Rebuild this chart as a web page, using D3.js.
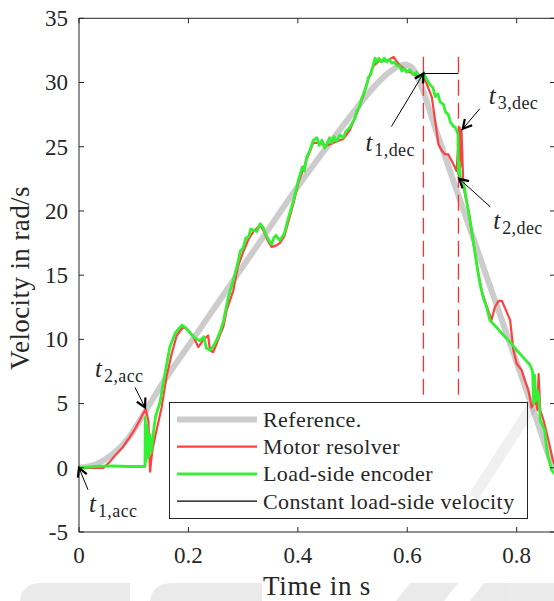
<!DOCTYPE html>
<html>
<head>
<meta charset="utf-8">
<script src="https://cdn.jsdelivr.net/npm/d3@7"></script>
<style>
  body { margin: 0; background: #fff; }
  svg { display: block; }
  text { font-family: "Liberation Serif", "DejaVu Serif", serif; fill: #262626; }
</style>
</head>
<body>
<svg id="chart" width="554" height="601"></svg>
<script>
// values: [time in s, velocity in rad/s]
var referenceData = [
    [0, 0], [0.03, 0.25], [0.06, 1.0], [0.09, 2.3], [0.12, 4.3], [0.15, 6.4],
    [0.2, 9.5], [0.25, 12.6], [0.3, 15.7], [0.35, 18.8], [0.4, 21.9],
    [0.45, 24.8], [0.5, 27.6], [0.54, 29.7], [0.57, 30.9], [0.595, 31.4],
    [0.61, 31.1], [0.626, 29.7], [0.65, 26.6], [0.7, 20.4], [0.75, 14.3],
    [0.8, 8.2], [0.84, 3.3], [0.86, 0.8], [0.87, 0]
];

var resolverData = [
    [0, 0], [0.045, 0], [0.055, 0.4], [0.069, 1.1], [0.08, 1.6], [0.093, 2.4],
    [0.102, 3.0], [0.111, 3.7], [0.117, 4.2], [0.122, 4.55], [0.125, 4.0],
    [0.127, 3.6], [0.128, 1.5], [0.13, -0.3], [0.132, 0.6], [0.135, 1.6],
    [0.139, 2.4], [0.151, 4.7], [0.16, 7.1], [0.1695, 8.9], [0.1786, 10.3],
    [0.191, 11.0], [0.2, 10.7], [0.209, 10.2], [0.218, 9.4], [0.228, 10.0],
    [0.236, 10.3], [0.2395, 9.15], [0.245, 9.0], [0.252, 9.7], [0.258, 10.4],
    [0.264, 11.0], [0.27, 12.3], [0.282, 13.8], [0.29, 15.6], [0.3, 16.8],
    [0.31, 17.8], [0.319, 18.4], [0.331, 18.9], [0.337, 18.5], [0.346, 17.6],
    [0.352, 17.2], [0.36, 17.3], [0.367, 17.5], [0.375, 18.0], [0.383, 19.2],
    [0.392, 20.6], [0.401, 22.2], [0.416, 24.0], [0.428, 25.3], [0.44, 25.3],
    [0.453, 25.1], [0.471, 25.4], [0.483, 25.6], [0.495, 26.3], [0.508, 27.6],
    [0.52, 29.0], [0.529, 30.3], [0.538, 31.3], [0.55, 31.7], [0.563, 31.7],
    [0.575, 32.0], [0.585, 31.4], [0.599, 30.9], [0.615, 30.6], [0.628, 30.5],
    [0.6355, 29.9], [0.645, 28.85], [0.651, 27.0], [0.657, 25.2], [0.663, 24.7],
    [0.669, 24.4], [0.675, 24.4], [0.681, 23.9], [0.687, 23.4], [0.69, 23.1],
    [0.6955, 26.5], [0.697, 23.4], [0.699, 26.3], [0.7026, 21.9], [0.712, 20.0],
    [0.718, 18.3], [0.724, 16.7], [0.73, 15.1], [0.736, 13.8], [0.745, 12.6],
    [0.754, 11.5], [0.76, 12.5], [0.767, 13.0], [0.773, 13.0], [0.782, 12.1],
    [0.788, 11.5], [0.794, 9.15], [0.8, 8.1], [0.809, 7.6], [0.815, 6.8],
    [0.8215, 6.0], [0.8275, 4.7], [0.8336, 5.3], [0.838, 4.5], [0.84, 7.3],
    [0.843, 4.5], [0.849, 3.7], [0.858, 2.15], [0.866, 0.6], [0.87, 0.2]
];

var encoderData = [
    [0, 0], [0.03, 0.1], [0.06, 0.15], [0.09, 0.1], [0.1205, 0.1], [0.1212, 3.9],
    [0.1225, 0.5], [0.1245, 3.3], [0.1265, 0.8], [0.129, 2.6], [0.132, 1.2],
    [0.136, 2.8], [0.14, 4.0], [0.148, 5.1], [0.157, 7.3], [0.166, 9.4],
    [0.176, 10.5], [0.188, 11.1], [0.195, 10.9], [0.203, 10.5], [0.212, 10.1],
    [0.221, 9.9], [0.228, 10.2], [0.233, 9.3], [0.24, 9.15], [0.246, 9.5],
    [0.252, 10.0], [0.258, 10.6], [0.264, 11.4], [0.273, 13.3], [0.282, 14.6],
    [0.291, 16.1], [0.295, 16.9], [0.3, 17.1], [0.305, 17.9], [0.31, 18.0],
    [0.314, 18.6], [0.319, 18.5], [0.325, 18.4], [0.331, 19.0], [0.337, 18.7],
    [0.341, 18.2], [0.346, 17.8], [0.352, 17.4], [0.356, 17.9], [0.36, 18.1],
    [0.367, 17.7], [0.375, 18.2], [0.383, 19.5], [0.392, 20.8], [0.401, 22.4],
    [0.408, 23.4], [0.412, 23.1], [0.416, 24.2], [0.422, 24.7], [0.428, 25.5],
    [0.435, 25.7], [0.439, 25.1], [0.444, 25.5], [0.449, 24.9], [0.453, 25.2],
    [0.458, 25.7], [0.462, 25.3], [0.466, 25.8], [0.471, 25.4], [0.477, 25.9],
    [0.483, 25.7], [0.488, 26.2], [0.495, 26.5], [0.5, 26.9], [0.504, 27.2],
    [0.508, 27.8], [0.513, 28.1], [0.517, 28.8], [0.52, 29.1], [0.525, 29.7],
    [0.529, 30.4], [0.533, 30.6], [0.538, 31.4], [0.541, 31.9], [0.544, 31.6],
    [0.548, 31.9], [0.553, 31.6], [0.558, 31.9], [0.5625, 31.6], [0.567, 31.8],
    [0.572, 31.5], [0.577, 31.6], [0.581, 31.3], [0.586, 31.3], [0.59, 30.9],
    [0.595, 31.1], [0.599, 30.8], [0.605, 31.0], [0.611, 30.6], [0.617, 30.8],
    [0.623, 30.4], [0.63, 30.7], [0.636, 30.2], [0.642, 29.8], [0.647, 29.6],
    [0.651, 28.9], [0.656, 29.1], [0.66, 28.5], [0.666, 28.3], [0.67, 27.7],
    [0.675, 27.5], [0.679, 26.9], [0.684, 26.6], [0.688, 26.5], [0.6925, 26.0],
    [0.6935, 22.9], [0.695, 23.8], [0.697, 22.6], [0.703, 22.2], [0.709, 20.6],
    [0.715, 19.2], [0.721, 17.5], [0.727, 15.8], [0.733, 14.3], [0.739, 13.2],
    [0.745, 12.5], [0.751, 11.5], [0.757, 11.2], [0.764, 10.9], [0.773, 10.45],
    [0.782, 10.05], [0.791, 9.65], [0.8, 9.15], [0.812, 8.6], [0.8245, 8.0],
    [0.829, 7.5], [0.831, 5.0], [0.833, 7.2], [0.835, 5.2], [0.838, 6.0],
    [0.84, 5.6], [0.843, 3.7], [0.851, 2.9], [0.856, 1.1], [0.864, -0.2],
    [0.87, -0.5]
];

var constantVelocity = [[0.6295, 30.7], [0.6935, 30.7]];
var markerTimes = [0.6295, 0.6935];
var markerSpan = [32, 5.5];

var xTicks = [0, 0.2, 0.4, 0.6, 0.8];
var xTickLabels = ["0", "0.2", "0.4", "0.6", "0.8"];
var yTicks = [-5, 0, 5, 10, 15, 20, 25, 30, 35];
var yTickLabels = ["-5", "0", "5", "10", "15", "20", "25", "30", "35"];

var legendLabels = ["Reference.", "Motor resolver", "Load-side encoder", "Constant load-side velocity"];

// instants marked with arrows: where the arrow points, and its subscript
var eventNames = ["1,acc", "2,acc", "1,dec", "3,dec", "2,dec"];
var eventPoints = [[0, 0], [0.1207, 4.7], [0.6295, 30.7], [0.7015, 26.4], [0.695, 22.5]];

var svg = d3.select("#chart");
var margin = { top: 18.3, right: 555, bottom: 532, left: 79 };

var x = d3.scaleLinear().domain([0, 0.87]).range([margin.left, margin.right]);
var y = d3.scaleLinear().domain([-5, 35]).range([margin.bottom, margin.top]);

var ink = "#262626";

// faint publisher watermark seen in the background of the picture
var mark = svg.append("g").attr("fill", "#000").attr("opacity", 0.08);
mark.append("path").attr("d", "M20,601 L20,600 Q22,584 40,583 L130,583 L130,601 Z");
mark.append("path").attr("d", "M150,601 Q152,584 172,583 L262,583 L262,601 Z");
mark.append("path").attr("d", "M396,601 L410,583 L458,583 L444,601 Z");
mark.append("path").attr("d", "M470,601 L484,583 L554,583 L554,601 Z");

// clip the data to the axes box
svg.append("clipPath").attr("id", "plotClip")
    .append("rect")
    .attr("x", margin.left).attr("y", margin.top)
    .attr("width", margin.right - margin.left)
    .attr("height", margin.bottom - margin.top);

var plot = svg.append("g").attr("clip-path", "url(#plotClip)");

var line = d3.line()
    .x(function (d) { return x(d[0]); })
    .y(function (d) { return y(d[1]); });

plot.append("path")
    .datum(referenceData)
    .attr("fill", "none")
    .attr("stroke", "#cccccc")
    .attr("stroke-width", 6)
    .attr("stroke-linejoin", "round")
    .attr("d", line.curve(d3.curveMonotoneX));

line.curve(d3.curveLinear);

plot.selectAll(".marker")
    .data(markerTimes)
    .enter().append("line")
    .attr("class", "marker")
    .attr("x1", function (d) { return x(d); })
    .attr("x2", function (d) { return x(d); })
    .attr("y1", y(markerSpan[0]))
    .attr("y2", y(markerSpan[1]))
    .attr("stroke", "#ff3030")
    .attr("stroke-width", 1.3)
    .attr("stroke-dasharray", "16,7");

plot.append("path")
    .datum(resolverData)
    .attr("fill", "none")
    .attr("stroke", "#ff4040")
    .attr("stroke-width", 2.2)
    .attr("stroke-linejoin", "round")
    .attr("d", line);

plot.append("path")
    .datum(encoderData)
    .attr("fill", "none")
    .attr("stroke", "#33f033")
    .attr("stroke-width", 2.8)
    .attr("stroke-linejoin", "round")
    .attr("d", line);

plot.append("path")
    .datum(constantVelocity)
    .attr("fill", "none")
    .attr("stroke", "#000")
    .attr("stroke-width", 1.2)
    .attr("d", line);

// axes: MATLAB style box with inward ticks on all four sides
var axisBox = svg.append("g");
axisBox.append("rect")
    .attr("x", margin.left).attr("y", margin.top)
    .attr("width", margin.right - margin.left)
    .attr("height", margin.bottom - margin.top)
    .attr("fill", "none")
    .attr("stroke", ink)
    .attr("stroke-width", 1);

var tickLen = 5;
xTicks.forEach(function (t) {
    axisBox.append("line").attr("x1", x(t)).attr("x2", x(t))
        .attr("y1", margin.bottom).attr("y2", margin.bottom - tickLen)
        .attr("stroke", ink);
    axisBox.append("line").attr("x1", x(t)).attr("x2", x(t))
        .attr("y1", margin.top).attr("y2", margin.top + tickLen)
        .attr("stroke", ink);
});
yTicks.forEach(function (v) {
    axisBox.append("line").attr("x1", margin.left).attr("x2", margin.left + tickLen)
        .attr("y1", y(v)).attr("y2", y(v))
        .attr("stroke", ink);
    axisBox.append("line").attr("x1", margin.right).attr("x2", margin.right - tickLen)
        .attr("y1", y(v)).attr("y2", y(v))
        .attr("stroke", ink);
});

svg.selectAll(".xlabel")
    .data(xTicks)
    .enter().append("text")
    .attr("class", "xlabel")
    .attr("x", function (d) { return x(d); })
    .attr("y", 563)
    .attr("text-anchor", "middle")
    .attr("font-size", 23)
    .text(function (d, i) { return xTickLabels[i]; });

svg.selectAll(".ylabel")
    .data(yTicks)
    .enter().append("text")
    .attr("class", "ylabel")
    .attr("x", 68)
    .attr("y", function (d) { return y(d); })
    .attr("dy", "0.34em")
    .attr("text-anchor", "end")
    .attr("font-size", 23)
    .text(function (d, i) { return yTickLabels[i]; });

svg.append("text")
    .attr("x", 317)
    .attr("y", 595)
    .attr("text-anchor", "middle")
    .attr("font-size", 27)
    .attr("letter-spacing", 0.8)
    .text("Time in s");

svg.append("text")
    .attr("transform", "translate(29,278) rotate(-90)")
    .attr("text-anchor", "middle")
    .attr("font-size", 27)
    .attr("letter-spacing", 0.4)
    .text("Velocity in rad/s");

// arrows with t_{i,phase} labels; offsets are in pixels from the arrow tip
var tailOffsets = [[9, 22], [-10, -20], [-32, 53], [17, -20], [31, 28]];
var textOffsets = [[10, 44], [-50, -30], [-58, 77], [26, -25], [34, 50]];

eventPoints.forEach(function (p, i) {
    var tipX = x(p[0]);
    var tipY = y(p[1]);
    var tailX = tipX + tailOffsets[i][0];
    var tailY = tipY + tailOffsets[i][1];
    var g = svg.append("g");

    g.append("line")
        .attr("x1", tailX).attr("y1", tailY)
        .attr("x2", tipX).attr("y2", tipY)
        .attr("stroke", "#000")
        .attr("stroke-width", 1);

    var angle = Math.atan2(tailY - tipY, tailX - tipX);
    var headLen = 10;
    var spread = 0.5;
    var head = [
        [tipX + headLen * Math.cos(angle - spread), tipY + headLen * Math.sin(angle - spread)],
        [tipX, tipY],
        [tipX + headLen * Math.cos(angle + spread), tipY + headLen * Math.sin(angle + spread)]
    ];
    g.append("path")
        .attr("d", d3.line()(head))
        .attr("fill", "none")
        .attr("stroke", "#000")
        .attr("stroke-width", 2.2);

    var label = g.append("text")
        .attr("x", tipX + textOffsets[i][0])
        .attr("y", tipY + textOffsets[i][1])
        .attr("font-size", 25);
    label.append("tspan").attr("font-style", "italic").text("t");
    label.append("tspan")
        .attr("font-size", 18)
        .attr("letter-spacing", 0.4)
        .attr("dx", 2)
        .attr("dy", 5)
        .text(eventNames[i]);
});

// legend
var legend = svg.append("g");
var legendBox = { x: 169.5, y: 402.5, w: 358, h: 116 };
legend.append("rect")
    .attr("x", legendBox.x).attr("y", legendBox.y)
    .attr("width", legendBox.w).attr("height", legendBox.h)
    .attr("fill", "#fff")
    .attr("stroke", ink)
    .attr("stroke-width", 1);

var legendColors = ["#cccccc", "#ff4040", "#33f033", "#000"];
var legendWidths = [6, 2.2, 2.8, 1.2];

legendLabels.forEach(function (name, i) {
    var rowY = legendBox.y + 17 + i * 27.2;
    legend.append("line")
        .attr("x1", 177).attr("x2", 257)
        .attr("y1", rowY).attr("y2", rowY)
        .attr("stroke", legendColors[i])
        .attr("stroke-width", legendWidths[i]);
    legend.append("text")
        .attr("x", 263)
        .attr("y", rowY)
        .attr("dy", "0.34em")
        .attr("font-size", 22)
        .attr("letter-spacing", 0.4)
        .text(name);
});

// the diagonal stroke of the watermark lies over the legend
svg.append("path")
    .attr("d", "M527,404 L536,410 L478,500 L469,494 Z")
    .attr("fill", "#000")
    .attr("opacity", 0.06);
</script>
</body>
</html>
